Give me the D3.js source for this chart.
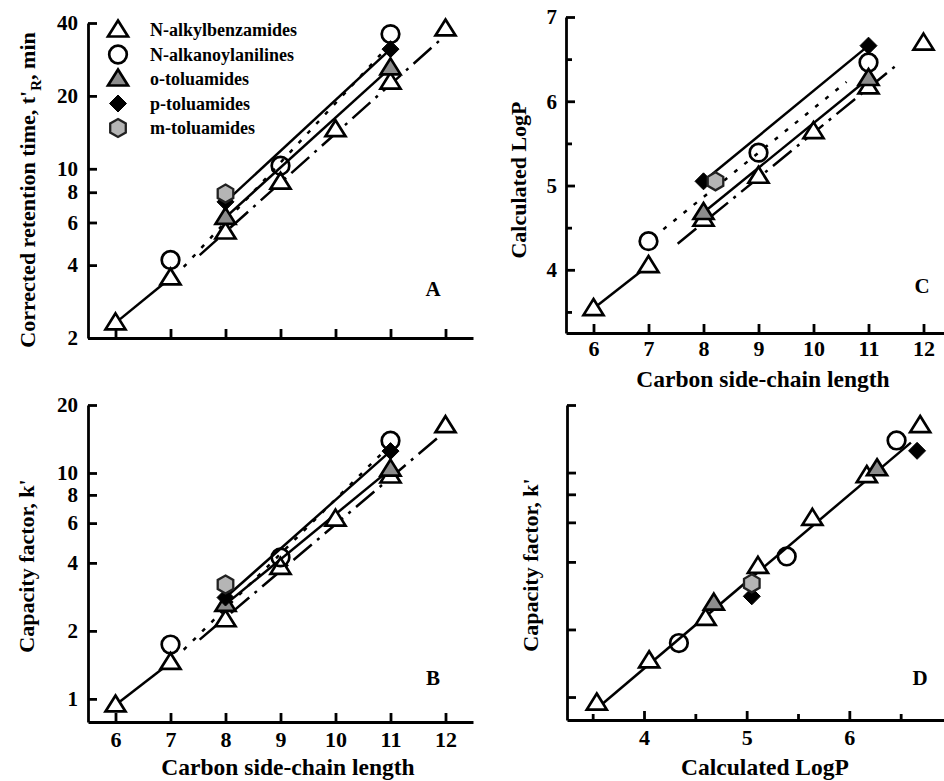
<!DOCTYPE html>
<html>
<head>
<meta charset="utf-8">
<script src="https://cdn.jsdelivr.net/npm/d3@7"></script>
<style>
  body { margin: 0; background: #fff; }
  svg { display: block; font-family: "Liberation Serif", "Times New Roman", serif; font-weight: bold; }
  .axis path, .axis line { stroke: #000; stroke-width: 2.8; }
  .axis text { font-family: "Liberation Serif", serif; font-weight: bold; fill: #000; }
</style>
</head>
<body>
<svg id="chart" width="944" height="781"></svg>
<script>
// ---- data ----
// N-alkylbenzamides
const benzChain = [6, 7, 8, 9, 10, 11, 12];
const benzTr    = [2.31, 3.54, 5.48, 8.8, 14.5, 22.8, 37.8];
const benzK     = [0.94, 1.45, 2.24, 3.82, 6.25, 9.7, 16.2];
const benzLogP  = [3.54, 4.05, 4.60, 5.11, 5.64, 6.17, 6.69];
// N-alkanoylanilines
const anilChain = [7, 9, 11];
const anilTr    = [4.2, 10.3, 36];
const anilK     = [1.74, 4.23, 13.9];
const anilLogP  = [4.34, 5.39, 6.46];
// o-toluamides
const oChain = [8, 11];
const oTr    = [6.3, 26.1];
const oK     = [2.62, 10.4];
const oLogP  = [4.68, 6.27];
// p-toluamides
const pChain = [8, 11];
const pTr    = [7.3, 31.2];
const pK     = [2.81, 12.5];
const pLogP  = [5.05, 6.66];
// m-toluamides
const mChain = [8];
const mTr    = [7.9];
const mK     = [3.21];
const mLogP  = [5.05];

// fitted lines (end points)
const aBenzFit = [[7.53, 4.4], [11.9, 34]];
const aAnilFit = [[7.24, 3.93], [10.9, 31]];
const bBenzFit = [[7.53, 1.83], [11.9, 14.6]];
const bAnilFit = [[7.24, 1.65], [10.87, 12.4]];
const cBenzFit = [[7.53, 4.31], [11.55, 6.45]];
const cAnilFit = [[7.27, 4.48], [10.6, 6.23]];
const dFit     = [[3.53, 0.88], [6.6, 13.6]];

// ticks
const chainTicks = [6, 7, 8, 9, 10, 11, 12];
const trTicks = [2, 4, 6, 8, 10, 20, 40];
const kTicks = [1, 2, 4, 6, 8, 10, 20];
const logPTicks = [4, 5, 6, 7];
const logPMinor = [3.5, 4.5, 5.5, 6.5];

const seriesNames = ["N-alkylbenzamides", "N-alkanoylanilines", "o-toluamides", "p-toluamides", "m-toluamides"];
const seriesShapes = ["tri", "circ", "gtri", "diam", "hex"];

const svg = d3.select("#chart");

function shapePath(shape) {
  if (shape === "tri" || shape === "gtri") return "M0,-9.5L10,6.5L-10,6.5Z";
  if (shape === "diam") return "M0,-8.5L8.5,0L0,8.5L-8.5,0Z";
  if (shape === "hex") {
    let pts = d3.range(6).map(i => {
      let a = Math.PI / 3 * i - Math.PI / 2;
      return [9 * Math.cos(a), 9 * Math.sin(a)];
    });
    return "M" + pts.join("L") + "Z";
  }
  return null;
}

function marker(g, shape, x, y) {
  if (shape === "circ") {
    g.append("circle").attr("cx", x).attr("cy", y).attr("r", 8.8)
      .attr("fill", "none").attr("stroke", "#000").attr("stroke-width", 2.7);
    return;
  }
  let fill = "#fff", stroke = "#000", sw = 2.7;
  if (shape === "gtri") fill = "#8c8c8c";
  if (shape === "diam") { fill = "#000"; sw = 1; }
  if (shape === "hex") { fill = "#b5b5b5"; stroke = "#222"; sw = 2.3; }
  g.append("path").attr("d", shapePath(shape))
    .attr("transform", `translate(${x},${y})`)
    .attr("fill", fill).attr("stroke", stroke).attr("stroke-width", sw)
    .attr("stroke-linejoin", "miter");
}

function drawLine(g, pts, x, y, dash) {
  let line = d3.line().x(d => x(d[0])).y(d => y(d[1]));
  g.append("path").attr("d", line(pts))
    .attr("fill", "none").attr("stroke", "#000").attr("stroke-width", 2.5)
    .attr("stroke-dasharray", dash || null);
}

function zipPts(xs, ys) { return xs.map((v, i) => [v, ys[i]]); }

function drawPoints(g, x, y, sets) {
  sets.forEach((s, k) => {
    s.xs.forEach((v, i) => marker(g, seriesShapes[k], x(v) + (s.dx || 0), y(s.ys[i])));
  });
}

const benzDash = "24,7,3,7";
const anilDash = "4,9";
const yTickFont = "21px", xTickFont = "22px", titleX = "23.5px", titleY = "22px";

// ---------------- Panel A ----------------
const xA = d3.scaleLinear().domain([5.5, 12.5]).range([88, 473]);
const yA = d3.scaleLog().domain([2, 40]).range([338, 23]);
const gA = svg.append("g");

gA.append("g").attr("class", "axis").attr("transform", "translate(0,338)")
  .call(d3.axisBottom(xA).tickValues(chainTicks).tickSize(-9).tickSizeOuter(0).tickFormat(""));
gA.append("g").attr("class", "axis").attr("transform", "translate(88,0)")
  .call(d3.axisLeft(yA).tickValues(trTicks).tickSize(-9).tickSizeOuter(0).tickPadding(10).tickFormat(d3.format("d")))
  .selectAll("text").style("font-size", yTickFont);

drawLine(gA, zipPts(benzChain.slice(0, 2), benzTr.slice(0, 2)), xA, yA);
drawLine(gA, aBenzFit, xA, yA, benzDash);
drawLine(gA, aAnilFit, xA, yA, anilDash);
drawLine(gA, zipPts(oChain, oTr), xA, yA);
drawLine(gA, zipPts(pChain, pTr), xA, yA);
drawPoints(gA, xA, yA, [
  {xs: benzChain, ys: benzTr}, {xs: anilChain, ys: anilTr}, {xs: oChain, ys: oTr},
  {xs: pChain, ys: pTr}, {xs: mChain, ys: mTr}
]);

// legend
const leg = gA.append("g");
seriesNames.forEach((name, i) => {
  let yy = 30 + i * 24.5;
  marker(leg, seriesShapes[i], 118, yy);
  leg.append("text").attr("x", 150).attr("y", yy + 6).style("font-size", "18px").text(name);
});

gA.append("text").attr("x", 433).attr("y", 296).attr("text-anchor", "middle").style("font-size", "21px").text("A");

const tA = gA.append("text").attr("transform", "translate(35,190) rotate(-90)")
  .attr("text-anchor", "middle").style("font-size", titleY);
tA.append("tspan").text("Corrected retention time, t'");
tA.append("tspan").attr("dy", 6).style("font-size", "15px").text("R");
tA.append("tspan").attr("dy", -6).text(", min");

// ---------------- Panel B ----------------
const xB = d3.scaleLinear().domain([5.5, 12.5]).range([88, 473]);
const yB = d3.scaleLog().domain([0.79, 20]).range([722, 405]);
const gB = svg.append("g");

gB.append("g").attr("class", "axis").attr("transform", "translate(0,722)")
  .call(d3.axisBottom(xB).tickValues(chainTicks).tickSize(-9).tickSizeOuter(0).tickPadding(9).tickFormat(d3.format("d")))
  .selectAll("text").style("font-size", xTickFont);
gB.append("g").attr("class", "axis").attr("transform", "translate(88,0)")
  .call(d3.axisLeft(yB).tickValues(kTicks).tickSize(-9).tickSizeOuter(0).tickPadding(10).tickFormat(d3.format("d")))
  .selectAll("text").style("font-size", yTickFont);

drawLine(gB, zipPts(benzChain.slice(0, 2), benzK.slice(0, 2)), xB, yB);
drawLine(gB, bBenzFit, xB, yB, benzDash);
drawLine(gB, bAnilFit, xB, yB, anilDash);
drawLine(gB, zipPts(oChain, oK), xB, yB);
drawLine(gB, zipPts(pChain, pK), xB, yB);
drawPoints(gB, xB, yB, [
  {xs: benzChain, ys: benzK}, {xs: anilChain, ys: anilK}, {xs: oChain, ys: oK},
  {xs: pChain, ys: pK}, {xs: mChain, ys: mK}
]);

gB.append("text").attr("x", 433).attr("y", 685).attr("text-anchor", "middle").style("font-size", "21px").text("B");
gB.append("text").attr("transform", "translate(34,566) rotate(-90)")
  .attr("text-anchor", "middle").style("font-size", titleY).text("Capacity factor, k'");
gB.append("text").attr("x", 288).attr("y", 775).attr("text-anchor", "middle")
  .style("font-size", titleX).text("Carbon side-chain length");

// ---------------- Panel C ----------------
const xC = d3.scaleLinear().domain([5.5, 12.5]).range([566, 951]);
const yC = d3.scaleLinear().domain([3.25, 7]).range([333, 17]);
const gC = svg.append("g");

gC.append("g").attr("class", "axis").attr("transform", "translate(0,333)")
  .call(d3.axisBottom(xC).tickValues(chainTicks).tickSize(-9).tickSizeOuter(0).tickPadding(7).tickFormat(d3.format("d")))
  .selectAll("text").style("font-size", xTickFont);
gC.append("g").attr("class", "axis").attr("transform", "translate(566,0)")
  .call(d3.axisLeft(yC).tickValues(logPTicks).tickSize(-9).tickSizeOuter(0).tickPadding(9).tickFormat(d3.format("d")))
  .selectAll("text").style("font-size", yTickFont);
gC.append("g").attr("class", "axis").attr("transform", "translate(566,0)")
  .call(d3.axisLeft(yC).tickValues(logPMinor).tickSize(-6).tickSizeOuter(0).tickFormat(""))
  .select(".domain").remove();

drawLine(gC, zipPts(benzChain.slice(0, 2), benzLogP.slice(0, 2)), xC, yC);
drawLine(gC, cBenzFit, xC, yC, benzDash);
drawLine(gC, cAnilFit, xC, yC, anilDash);
drawLine(gC, zipPts(oChain, oLogP), xC, yC);
drawLine(gC, zipPts(pChain, pLogP), xC, yC);
drawPoints(gC, xC, yC, [
  {xs: benzChain, ys: benzLogP}, {xs: anilChain, ys: anilLogP}, {xs: oChain, ys: oLogP},
  {xs: pChain, ys: pLogP}, {xs: mChain, ys: mLogP, dx: 12}
]);

gC.append("text").attr("x", 922).attr("y", 293).attr("text-anchor", "middle").style("font-size", "21px").text("C");
gC.append("text").attr("transform", "translate(526,180) rotate(-90)")
  .attr("text-anchor", "middle").style("font-size", titleY).text("Calculated LogP");
gC.append("text").attr("x", 763).attr("y", 387).attr("text-anchor", "middle")
  .style("font-size", titleX).text("Carbon side-chain length");

// ---------------- Panel D ----------------
const xD = d3.scaleLinear().domain([3.25, 7]).range([567, 952]);
const yD = d3.scaleLog().domain([0.79, 20]).range([720, 405]);
const gD = svg.append("g");

gD.append("g").attr("class", "axis").attr("transform", "translate(0,720)")
  .call(d3.axisBottom(xD).tickValues(logPTicks).tickSize(-9).tickSizeOuter(0).tickPadding(9).tickFormat(d3.format("d")))
  .selectAll("text").style("font-size", xTickFont);
gD.append("g").attr("class", "axis").attr("transform", "translate(0,720)")
  .call(d3.axisBottom(xD).tickValues(logPMinor).tickSize(-6).tickSizeOuter(0).tickFormat(""))
  .select(".domain").remove();
gD.append("g").attr("class", "axis").attr("transform", "translate(567,0)")
  .call(d3.axisLeft(yD).tickValues(kTicks).tickSize(-9).tickSizeOuter(0).tickFormat(""));

drawLine(gD, dFit, xD, yD);
drawPoints(gD, xD, yD, [
  {xs: benzLogP, ys: benzK}, {xs: anilLogP, ys: anilK}, {xs: oLogP, ys: oK},
  {xs: pLogP, ys: pK}, {xs: mLogP, ys: mK}
]);

gD.append("text").attr("x", 920).attr("y", 685).attr("text-anchor", "middle").style("font-size", "21px").text("D");
gD.append("text").attr("transform", "translate(538,565) rotate(-90)")
  .attr("text-anchor", "middle").style("font-size", titleY).text("Capacity factor, k'");
gD.append("text").attr("x", 765).attr("y", 775).attr("text-anchor", "middle")
  .style("font-size", titleX).text("Calculated LogP");
</script>
</body>
</html>
